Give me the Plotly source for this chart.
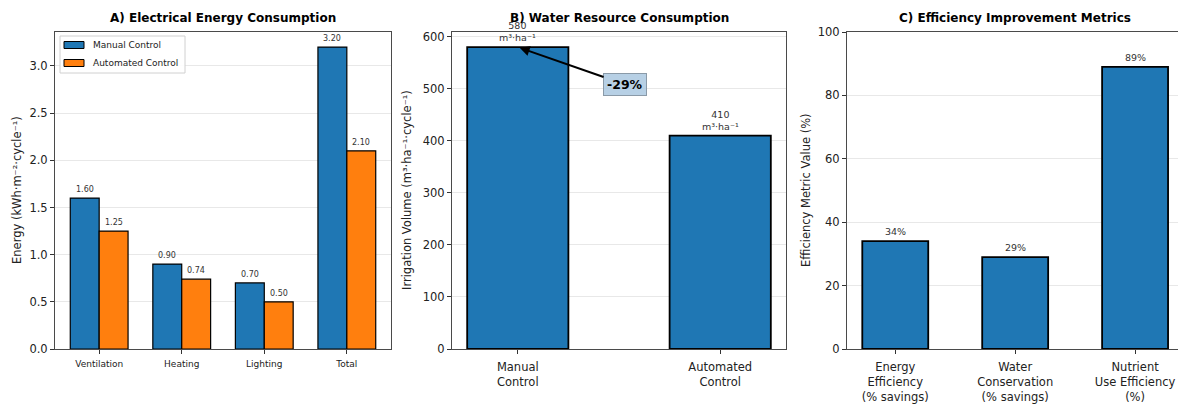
import plotly.graph_objects as go

# ---- data ----
energy_categories = ["Ventilation", "Heating", "Lighting", "Total"]
energy_manual = [1.60, 0.90, 0.70, 3.20]
energy_automated = [1.25, 0.74, 0.50, 2.10]
series_names = ["Manual Control", "Automated Control"]

water_categories = ["Manual<br>Control", "Automated<br>Control"]
water_volume = [580, 410]
water_change_label = "-29%"

metric_categories = ["Energy<br>Efficiency<br>(% savings)",
                     "Water<br>Conservation<br>(% savings)",
                     "Nutrient<br>Use Efficiency<br>(%)"]
metric_values = [34, 29, 89]

panel_titles = ["A) Electrical Energy Consumption",
                "B) Water Resource Consumption",
                "C) Efficiency Improvement Metrics"]
y_titles = ["Energy (kWh·m⁻²·cycle⁻¹)",
            "Irrigation Volume (m³·ha⁻¹·cycle⁻¹)",
            "Efficiency Metric Value (%)"]

BLUE = "#1f77b4"
ORANGE = "#ff7f0e"
FONT = "DejaVu Sans"
W, H = 1178, 405

def px_x(p):
    return p / W

def px_y(p):
    return (H - p) / H

fig = go.Figure()

# ---- panel A: grouped bars ----
bw = 0.35
idx = list(range(len(energy_categories)))
fig.add_trace(go.Bar(x=idx, y=energy_manual, width=bw, offset=-bw,
                     marker=dict(color=BLUE, line=dict(color="black", width=1.2)),
                     name=series_names[0], xaxis="x", yaxis="y", showlegend=False))
fig.add_trace(go.Bar(x=idx, y=energy_automated, width=bw, offset=0,
                     marker=dict(color=ORANGE, line=dict(color="black", width=1.2)),
                     name=series_names[1], xaxis="x", yaxis="y", showlegend=False))

# ---- panel B ----
widx = list(range(len(water_categories)))
fig.add_trace(go.Bar(x=widx, y=water_volume, width=0.5,
                     marker=dict(color=BLUE, line=dict(color="black", width=1.8)),
                     xaxis="x2", yaxis="y2", showlegend=False))

# ---- panel C ----
midx = list(range(len(metric_categories)))
fig.add_trace(go.Bar(x=midx, y=metric_values, width=0.55,
                     marker=dict(color=BLUE, line=dict(color="black", width=1.8)),
                     xaxis="x3", yaxis="y3", showlegend=False))

annotations = []

# value labels
for i, v in enumerate(energy_manual):
    annotations.append(dict(x=i - bw / 2, y=v, xref="x", yref="y", text=f"{v:.2f}",
                            showarrow=False, yanchor="bottom", yshift=2,
                            font=dict(size=8, color="#333", family=FONT)))
for i, v in enumerate(energy_automated):
    annotations.append(dict(x=i + bw / 2, y=v, xref="x", yref="y", text=f"{v:.2f}",
                            showarrow=False, yanchor="bottom", yshift=2,
                            font=dict(size=8, color="#333", family=FONT)))
for i, v in enumerate(water_volume):
    annotations.append(dict(x=i, y=v, xref="x2", yref="y2", text=f"{v}<br>m³·ha⁻¹",
                            showarrow=False, yanchor="bottom", yshift=2,
                            font=dict(size=9.5, color="#333", family=FONT)))
for i, v in enumerate(metric_values):
    annotations.append(dict(x=i, y=v, xref="x3", yref="y3", text=f"{v}%",
                            showarrow=False, yanchor="bottom", yshift=2,
                            font=dict(size=9.5, color="#333", family=FONT)))

# reduction arrow in panel B
annotations.append(dict(x=0, y=water_volume[0], xref="x2", yref="y2",
                        ax=0.53, ay=508, axref="x2", ayref="y2",
                        text=f"<b>{water_change_label}</b>", showarrow=True,
                        arrowhead=2, arrowsize=1, arrowwidth=2, arrowcolor="black",
                        standoff=2, bgcolor="rgba(170,200,225,0.85)",
                        bordercolor="#8a9aa8", borderwidth=1, borderpad=3,
                        font=dict(size=12.5, color="black", family=FONT)))

# panel titles
title_x = [(55 + 391) / 2, (452 + 786) / 2, (847 + 1183) / 2]
for t, cx in zip(panel_titles, title_x):
    annotations.append(dict(x=px_x(cx), y=px_y(18), xref="paper", yref="paper",
                            text=f"<b>{t}</b>", showarrow=False,
                            xanchor="center", yanchor="middle",
                            font=dict(size=12, color="black", family=FONT)))

# y axis titles
for t, cx in zip(y_titles, [17, 407, 806]):
    annotations.append(dict(x=px_x(cx), y=px_y(190), xref="paper", yref="paper",
                            text=t, showarrow=False, textangle=-90,
                            xanchor="center", yanchor="middle",
                            font=dict(size=11.5, color="#222", family=FONT)))

# legend for panel A
shapes = [dict(type="rect", xref="paper", yref="paper",
               x0=px_x(60), x1=px_x(185), y0=px_y(73), y1=px_y(36),
               fillcolor="rgba(255,255,255,0.9)", line=dict(color="#d0d0d0", width=1),
               layer="above")]
for k, (name, col) in enumerate(zip(series_names, [BLUE, ORANGE])):
    yc = 45 + k * 18
    shapes.append(dict(type="rect", xref="paper", yref="paper",
                       x0=px_x(64), x1=px_x(84), y0=px_y(yc + 3.5), y1=px_y(yc - 3.5),
                       fillcolor=col, line=dict(color="black", width=1), layer="above"))
    annotations.append(dict(x=px_x(91), y=px_y(yc), xref="paper", yref="paper",
                            text=name, showarrow=False, xanchor="left", yanchor="middle",
                            font=dict(size=9, color="#222", family=FONT)))

ydom = [px_y(349), px_y(32)]
axis_common = dict(showline=True, linecolor="#4a4a4a", linewidth=1, ticks="outside",
                   ticklen=4, tickcolor="#333", zeroline=False, automargin=False)

def tf(size):
    return dict(family=FONT, color="#222", size=size)

fig.update_layout(
    width=W, height=H, margin=dict(l=0, r=0, t=0, b=0, autoexpand=False),
    paper_bgcolor="white", plot_bgcolor="white", barmode="overlay",
    font=dict(family=FONT),
    xaxis=dict(domain=[px_x(55), px_x(391)], range=[-0.535, 3.535], anchor="y",
               tickvals=idx, ticktext=energy_categories, mirror=True, showgrid=False,
               tickfont=tf(9), ticklabelstandoff=2, **axis_common),
    yaxis=dict(domain=ydom, range=[0, 3.36], anchor="x", dtick=0.5, tickformat=".1f",
               mirror=True, showgrid=True, gridcolor="#e8e8e8",
               tickfont=tf(11.5), **axis_common),
    xaxis2=dict(domain=[px_x(452), px_x(786)], range=[-0.325, 1.325], anchor="y2",
                tickvals=widx, ticktext=water_categories, mirror=True, showgrid=False,
                tickfont=tf(11.5), ticklabelstandoff=3, **axis_common),
    yaxis2=dict(domain=ydom, range=[0, 609], anchor="x2", dtick=100,
                mirror=True, showgrid=True, gridcolor="#e8e8e8",
                tickfont=tf(11.5), **axis_common),
    xaxis3=dict(domain=[px_x(847), 1.0], range=[-0.4025, (1178 - 896) / 119.6], anchor="y3",
                tickvals=midx, ticktext=metric_categories, mirror=True, showgrid=False,
                tickfont=tf(11.5), ticklabelstandoff=3, **axis_common),
    yaxis3=dict(domain=ydom, range=[0, 100], anchor="x3", dtick=20,
                mirror=False, showgrid=True, gridcolor="#e8e8e8",
                tickfont=tf(11.5), **axis_common),
    annotations=annotations, shapes=shapes,
)

fig.write_html("out.html")
